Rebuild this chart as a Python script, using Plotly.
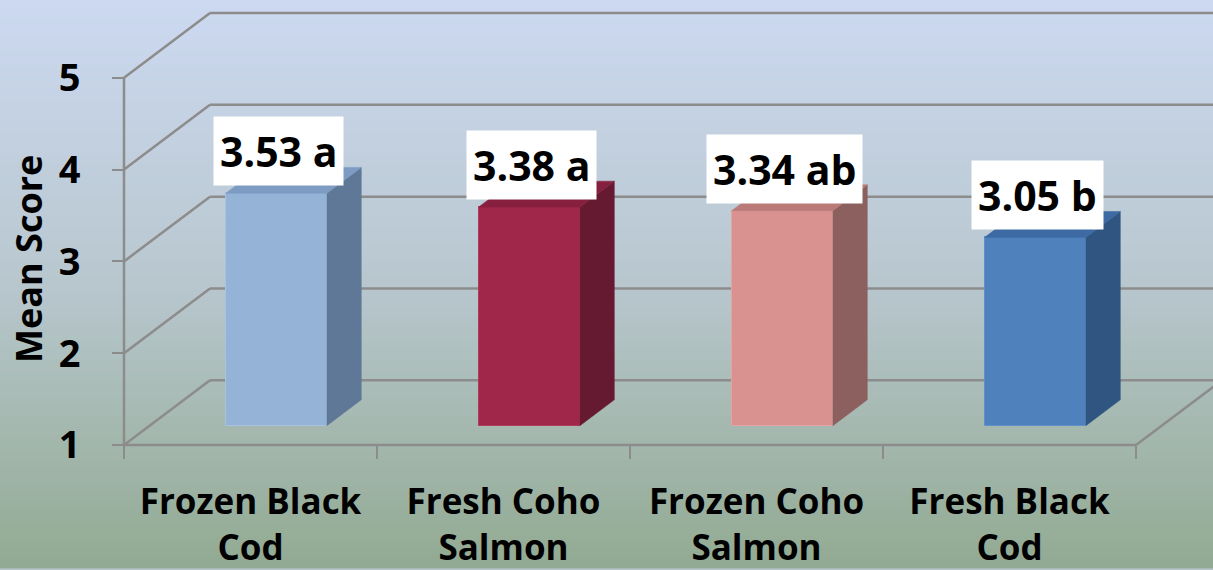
import plotly.graph_objects as go

# ---------------- data ----------------
categories = ["Frozen Black<br>Cod", "Fresh Coho<br>Salmon", "Frozen Coho<br>Salmon", "Fresh Black<br>Cod"]
mean_scores = [3.53, 3.38, 3.34, 3.05]
groups = ["a", "a", "ab", "b"]
y_ticks = [1, 2, 3, 4, 5]

front_colors = ["#95b3d7", "#a0264a", "#d9928f", "#4f81bd"]
side_colors = ["#5f7898", "#661a31", "#8c605e", "#2f5580"]
top_colors = ["#7d9bc3", "#86203e", "#b97a78", "#3d6aa3"]
edge_colors = ["#a9c2e0", "#b03a5c", "#e3a4a2", "#6190c8"]

# ---------------- geometry (styling) ----------------
W, H = 1213, 570
ML, MB, MT = 110, 100, 0
AXIS_PX = 124          # pixel x of front value axis
FLOOR_PX = 447         # pixel y of value 1 on front plane
PX_CAT = 253.0         # pixels per category
PX_UNIT = 92.25        # pixels per score unit
DEPTH_X = 86 / PX_CAT  # depth offset in x units
DEPTH_Y = 65 / PX_UNIT # depth offset in y units
BAR_W = 0.40
FRONT_D, BACK_D = 0.30, 0.70

plot_w = W - ML
plot_h = H - MB - MT
x0 = -0.5 - (AXIS_PX - ML) / PX_CAT
x1 = x0 + plot_w / PX_CAT
y0 = 1 - (plot_h - FLOOR_PX) / PX_UNIT
y1 = 1 + FLOOR_PX / PX_UNIT

GRID = "#8c8c8c"
FONT = "Open Sans"

fig = go.Figure()

# background gradient
def lerp(c1, c2, t):
    return tuple(round(a + (b - a) * t) for a, b in zip(c1, c2))

stops = [(0.0, (204, 217, 241)), (0.5, (184, 199, 206)), (1.0, (146, 170, 146))]
def grad(t):
    for (t1, c1), (t2, c2) in zip(stops[:-1], stops[1:]):
        if t <= t2:
            return lerp(c1, c2, (t - t1) / (t2 - t1))
    return stops[-1][1]

shapes = []
N = 90
py_bottom = -MB / plot_h
py_top = 1 + MT / plot_h
for k in range(N):
    a = py_top - (py_top - py_bottom) * k / N
    b = py_top - (py_top - py_bottom) * (k + 1) / N
    c = grad((k + 0.5) / N)
    shapes.append(dict(type="rect", xref="paper", yref="paper",
                       x0=-ML / plot_w, x1=1.0, y0=b - 0.002, y1=a,
                       fillcolor="rgb(%d,%d,%d)" % c, line=dict(width=0), layer="below"))

# 3-D frame lines (walls / floor)
def seg(xa, ya, xb, yb):
    shapes.append(dict(type="line", xref="x", yref="y", x0=xa, y0=ya, x1=xb, y1=yb,
                       line=dict(color=GRID, width=2.5), layer="below"))

left = -0.5
right = len(categories) - 0.5
for k in y_ticks:
    seg(left, k, left + DEPTH_X, k + DEPTH_Y)
    seg(left + DEPTH_X, k + DEPTH_Y, x1 + 1, k + DEPTH_Y)
seg(left, y_ticks[0], left, y_ticks[-1])
seg(left, y_ticks[0], right, y_ticks[0])
seg(right, y_ticks[0], right + DEPTH_X, y_ticks[0] + DEPTH_Y)

# bars: front faces
dxf, dyf = FRONT_D * DEPTH_X, FRONT_D * DEPTH_Y
ddx, ddy = (BACK_D - FRONT_D) * DEPTH_X, (BACK_D - FRONT_D) * DEPTH_Y
xs = [i + dxf for i in range(len(categories))]
fig.add_trace(go.Bar(
    x=xs, y=[v - 1 for v in mean_scores], base=[1 + dyf] * len(mean_scores),
    width=BAR_W, marker=dict(color=front_colors, line=dict(color=edge_colors, width=1)),
    hoverinfo="skip", showlegend=False))

# side and top faces
for i, v in enumerate(mean_scores):
    l = xs[i] - BAR_W / 2
    r = xs[i] + BAR_W / 2
    b = 1 + dyf
    t = v + dyf
    fig.add_trace(go.Scatter(
        x=[r, r + ddx, r + ddx, r, r], y=[b, b + ddy, t + ddy, t, b],
        fill="toself", fillcolor=side_colors[i], mode="lines",
        line=dict(width=0.5, color=side_colors[i]), hoverinfo="skip", showlegend=False))
    fig.add_trace(go.Scatter(
        x=[l, r, r + ddx, l + ddx, l], y=[t, t, t + ddy, t + ddy, t],
        fill="toself", fillcolor=top_colors[i], mode="lines",
        line=dict(width=0.5, color=top_colors[i]), hoverinfo="skip", showlegend=False))

# value labels
annotations = []
for i, v in enumerate(mean_scores):
    annotations.append(dict(
        x=xs[i] + 0.01, y=v + dyf, xref="x", yref="y", text=f"{v:.2f} {groups[i]}",
        showarrow=False, yanchor="bottom", xanchor="center", yshift=7,
        bgcolor="white", borderpad=6,
        font=dict(family=FONT, size=41, color="black", weight="bold")))

annotations.append(dict(
    x=(29 - ML) / plot_w, y=(plot_h - 260) / plot_h, xref="paper", yref="paper",
    xanchor="center", yanchor="middle",
    text="Mean Score", textangle=-90, showarrow=False,
    font=dict(family=FONT, size=36, color="black", weight="bold")))

fig.update_layout(
    width=W, height=H,
    margin=dict(l=ML, r=0, t=MT, b=MB),
    paper_bgcolor="rgb(184,199,206)",
    plot_bgcolor="rgba(0,0,0,0)",
    shapes=shapes,
    annotations=annotations,
    xaxis=dict(range=[x0, x1], anchor="free", position=(plot_h - FLOOR_PX) / plot_h,
               tickmode="array", tickvals=list(range(len(categories))), ticktext=categories,
               ticks="", showgrid=False, zeroline=False, showline=False,
               ticklabelstandoff=33,
               tickfont=dict(family=FONT, size=35, color="black", weight="bold"),
               minor=dict(tickmode="array", tickvals=[i - 0.5 for i in range(len(categories) + 1)],
                          ticks="outside", ticklen=13, tickwidth=2, tickcolor=GRID, showgrid=False),
               fixedrange=True),
    yaxis=dict(range=[y0, y1], anchor="free", position=(AXIS_PX - ML) / plot_w,
               tickmode="array", tickvals=y_ticks, ticks="outside", ticklen=12, tickwidth=2,
               tickcolor=GRID, showgrid=False, zeroline=False, showline=False,
               ticklabelstandoff=24,
               tickfont=dict(family=FONT, size=38, color="black", weight="bold"),
               fixedrange=True),
    bargap=0,
)

fig.write_html("out.html")
